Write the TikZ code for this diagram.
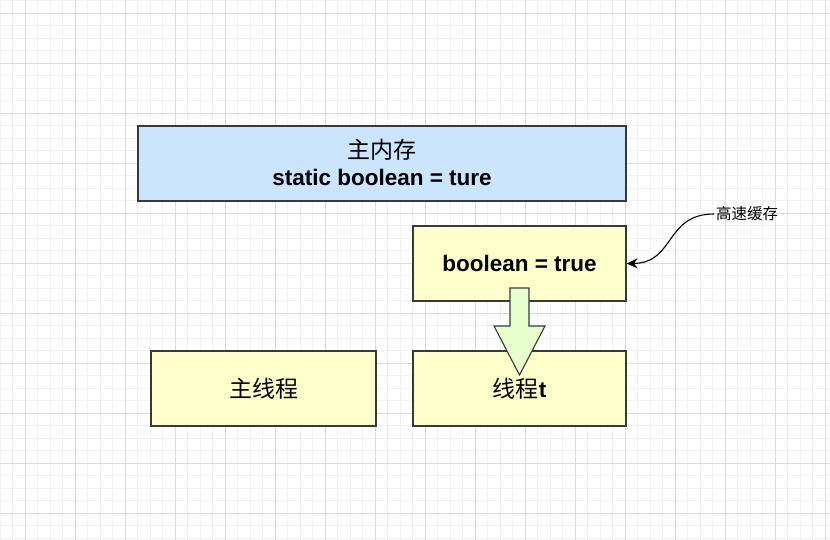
\documentclass[tikz,border=0pt]{standalone}
\usepackage{fontspec}
\setmainfont{Liberation Sans}
\newfontfamily\cjk{Noto Sans CJK SC}
\usepackage{tikz}
\usetikzlibrary{
  positioning,
  arrows.meta
}
\definecolor{gridminor}{RGB}{242,242,242}
\definecolor{gridmajor}{RGB}{220,220,220}
\definecolor{boxline}{RGB}{54,57,61}
\definecolor{memblue}{RGB}{204,229,255}
\definecolor{thyellow}{RGB}{255,255,204}
\definecolor{arrgreen}{RGB}{230,255,204}
\tikzset{
  membox/.style={draw=boxline,line width=1.2pt,minimum width=488pt,minimum height=75pt,inner sep=0pt,align=center},
  thbox/.style={membox,fill=thyellow,minimum width=213pt},
  latin/.style={font=\fontsize{22.5}{26}\selectfont\bfseries},
  zh/.style={font=\cjk\fontsize{23}{27}\selectfont}
}

\begin{document}
\begin{tikzpicture}[x=1pt,y=-1pt,>={Stealth[length=11pt,width=10pt]}]
                \useasboundingbox (0,0) rectangle (830,540);
                % grid
                \foreach \i in {0,...,66} \draw[gridminor,line width=0.6pt] (12.5*\i,0) -- (12.5*\i,540);
                \foreach \i in {0,...,43} \draw[gridminor,line width=0.6pt] (0,0.5+12.5*\i) -- (830,0.5+12.5*\i);
                \foreach \i in {0,...,16} \draw[gridmajor,line width=0.7pt] (25+50*\i,0) -- (25+50*\i,540);
                \foreach \i in {0,...,10} \draw[gridmajor,line width=0.7pt] (0,13+50*\i) -- (830,13+50*\i);
                % boxes
                \node[membox,fill=memblue] (mem) at (382,163.5) {};
                \node[zh] (memzh) at (382,150) {主内存};
                \node[latin] (memvar) at (382,177) {static boolean = ture};
                \node[thbox,latin] (cache) at (519.5,263.5) {boolean = true};
                \node[thbox,zh,minimum width=225pt] (mainth) at (263.5,388.5) {主线程};
                \node[thbox,zh] (tth) at (519.5,388.5) {线程{\rmfamily\fontsize{22.5}{26}\selectfont\bfseries t}};
                % block arrow
                \draw[draw=boxline,line width=1.1pt,fill=arrgreen,line join=miter]
                  (510,288) -- (529,288) -- (529,326) -- (545,326) -- (519.5,375)
                  -- (494,326) -- (510,326) -- cycle;
                % label and curved connector
                \node[font=\cjk\fontsize{15.5}{18}\selectfont,anchor=west,inner sep=2pt] (l2) at (714,214) {高速缓存};
                \draw[->,line width=1.1pt] (l2.west) .. controls (665,214) and (675,263) .. (cache.east);
\end{tikzpicture}
\end{document}
